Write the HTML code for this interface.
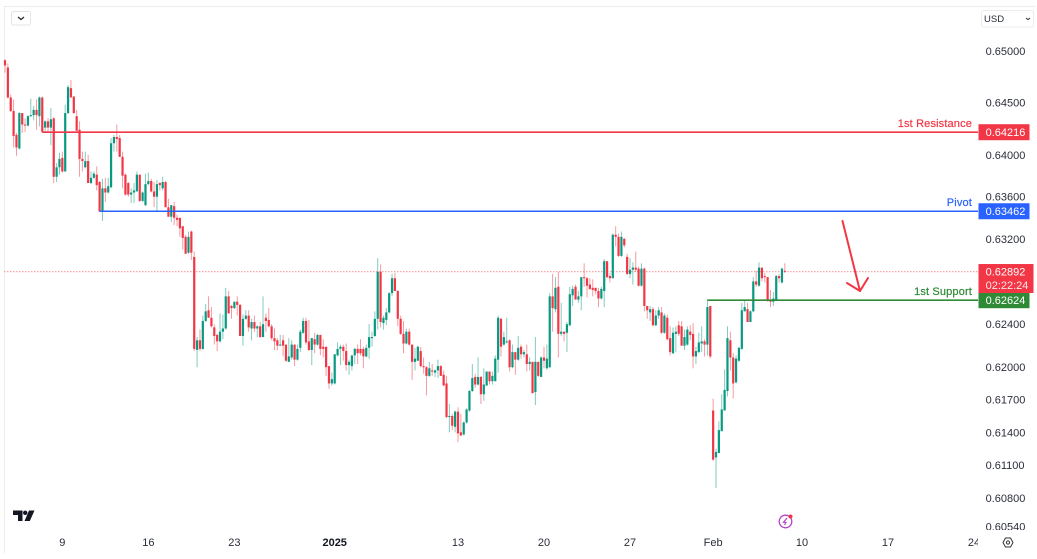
<!DOCTYPE html>
<html lang="en">
<head>
<meta charset="utf-8">
<title>Price chart</title>
<style>
html,body{margin:0;padding:0;width:1037px;height:559px;overflow:hidden;background:#fff}
svg{display:block;font-family:"Liberation Sans",sans-serif}
text{font-size:11px}
</style>
</head>
<body>
<svg id="chart" xmlns="http://www.w3.org/2000/svg" width="1037" height="559" viewBox="0 0 1037 559">
  <defs>
    <clipPath id="price-clip"><rect x="978" y="28" width="59" height="502"/></clipPath>
    <clipPath id="time-clip"><rect x="4" y="530" width="974" height="24"/></clipPath>
  </defs>
  <rect width="1037" height="559" fill="#ffffff"/>
  <path d="M4.5 553V6.5H1035.5" fill="none" stroke="#ececec" stroke-width="1"/>
  <g id="price-ticks" clip-path="url(#price-clip)"></g>
  <g id="time-ticks" clip-path="url(#time-clip)"></g>
  <g id="last-line"></g>
  <g id="candles"></g>
  <g id="levels"></g>
  <g id="last-box"></g>

  <g fill="none" stroke="#f23645" stroke-width="2" stroke-linecap="round" stroke-linejoin="round">
    <path d="M842.5 221L860 291"/>
    <path d="M847 283L860 291L868 278"/>
  </g>

  <g>
    <rect x="11.5" y="11.5" width="19" height="13.5" rx="2" fill="#fff" stroke="#e4e4e4"/>
    <path d="M18 17l3 2.5l3-2.5" fill="none" stroke="#333" stroke-width="1.4"/>
  </g>
  <g>
    <rect x="981.5" y="10.5" width="52" height="16.5" rx="2" fill="#fff" stroke="#ececec"/>
    <text x="984" y="22" fill="#2a2e39" style="font-size:9.5px">USD</text>
    <path d="M1026 18l2 1.6l2-1.6" fill="none" stroke="#333" stroke-width="1"/>
  </g>

  <g fill="#131722">
    <path d="M13 510.500H22.500V521H18V515H13Z"/>
    <circle cx="25.200" cy="512.800" r="2.200"/>
    <path d="M29 510.500H34.500L29.800 521H24.500Z"/>
  </g>

  <g>
    <circle cx="785.500" cy="521.500" r="6.300" fill="none" stroke="#b344c8" stroke-width="1.300"/>
    <path d="M787 518L783.500 522.300H786L784.500 525" fill="none" stroke="#b344c8" stroke-width="1.200"/>
    <circle cx="790.500" cy="516.500" r="2" fill="#f23645"/>
  </g>

  <g fill="none" stroke="#333" stroke-width="1">
    <path d="M1003 542.500L1005.500 538H1010.500L1013 542.500L1010.500 547H1005.500Z"/>
    <circle cx="1008" cy="542.500" r="1.600"/>
  </g>
</svg>

<script>
const opens = [
.6491,.6484,.6455,.6442,.6419,.6406,.6440,.6429,.6428,.6437,
.6438,.6443,.6437,.6455,.6426,.6432,.6426,.6435,.6379,.6388,
.6397,.6384,.6440,.6464,.6456,.6437,.6424,.6396,.6388,.6394,
.6373,.6378,.6381,.6374,.6346,.6368,.6364,.6369,.6411,.6417,
.6416,.6398,.6381,.6373,.6362,.6364,.6365,.6381,.6356,.6352,
.6372,.6375,.6365,.6360,.6373,.6368,.6374,.6350,.6341,.6351,
.6340,.6340,.6332,.6322,.6307,.6327,.6303,.6216,.6225,.6217,
.6243,.6253,.6246,.6237,.6230,.6224,.6233,.6236,.6266,.6257,
.6255,.6261,.6258,.6229,.6245,.6248,.6236,.6242,.6236,.6238,
.6228,.6246,.6244,.6238,.6227,.6225,.6220,.6225,.6221,.6205,
.6209,.6221,.6207,.6218,.6232,.6243,.6224,.6216,.6226,.6221,
.6230,.6219,.6219,.6201,.6185,.6185,.6211,.6217,.6219,.6215,
.6202,.6201,.6211,.6217,.6217,.6217,.6210,.6218,.6227,.6229,
.6245,.6289,.6241,.6244,.6251,.6269,.6283,.6271,.6245,.6231,
.6222,.6233,.6221,.6205,.6206,.6215,.6201,.6200,.6192,.6197,
.6195,.6197,.6201,.6193,.6185,.6154,.6155,.6145,.6159,.6140,
.6138,.6149,.6160,.6178,.6191,.6184,.6191,.6175,.6183,.6196,
.6187,.6187,.6207,.6245,.6221,.6223,.6225,.6200,.6214,.6207,
.6219,.6212,.6212,.6203,.6205,.6177,.6205,.6191,.6209,.6199,
.6200,.6266,.6254,.6275,.6231,.6233,.6232,.6239,.6267,.6275,
.6263,.6266,.6284,.6283,.6277,.6274,.6274,.6271,.6264,.6271,
.6299,.6285,.6283,.6324,.6322,.6304,.6320,.6303,.6287,.6291,
.6293,.6292,.6276,.6292,.6257,.6251,.6254,.6239,.6248,.6251,
.6232,.6246,.6227,.6213,.6231,.6239,.6238,.6220,.6221,.6233,
.6231,.6210,.6214,.6222,.6224,.6221,.6257,.6160,.6117,.6121,
.6141,.6160,.6178,.6225,.6209,.6186,.6206,.6217,.6252,.6254,
.6242,.6252,.6280,.6276,.6293,.6285,.6284,.6263,.6261,.6263,
.6285,.6279,.6290];
const highs = [
.6492,.6488,.6458,.6453,.6421,.6441,.6440,.6435,.6438,.6454,
.6447,.6453,.6456,.6456,.6433,.6435,.6445,.6436,.6392,.6402,
.6403,.6448,.6467,.6472,.6456,.6443,.6432,.6403,.6403,.6400,
.6384,.6384,.6389,.6375,.6377,.6378,.6378,.6416,.6419,.6429,
.6419,.6403,.6382,.6374,.6368,.6373,.6384,.6381,.6365,.6382,
.6383,.6377,.6374,.6376,.6374,.6379,.6375,.6358,.6352,.6355,
.6343,.6340,.6332,.6324,.6327,.6328,.6308,.6228,.6235,.6248,
.6259,.6266,.6256,.6240,.6231,.6250,.6249,.6274,.6271,.6258,
.6261,.6266,.6259,.6249,.6253,.6253,.6245,.6248,.6239,.6242,
.6266,.6250,.6255,.6240,.6236,.6227,.6230,.6230,.6221,.6227,
.6225,.6221,.6221,.6235,.6246,.6246,.6244,.6227,.6232,.6231,
.6230,.6226,.6219,.6201,.6195,.6212,.6223,.6221,.6221,.6222,
.6207,.6211,.6218,.6221,.6226,.6219,.6221,.6240,.6233,.6252,
.6302,.6296,.6248,.6255,.6270,.6287,.6288,.6272,.6248,.6243,
.6236,.6236,.6221,.6218,.6220,.6219,.6209,.6201,.6205,.6203,
.6198,.6207,.6202,.6197,.6192,.6166,.6157,.6160,.6163,.6157,
.6150,.6162,.6179,.6203,.6194,.6209,.6192,.6199,.6196,.6196,
.6196,.6211,.6248,.6246,.6233,.6246,.6226,.6221,.6214,.6229,
.6221,.6216,.6221,.6209,.6205,.6228,.6205,.6210,.6219,.6221,
.6269,.6287,.6284,.6289,.6260,.6233,.6242,.6275,.6276,.6277,
.6271,.6284,.6297,.6284,.6283,.6282,.6274,.6274,.6275,.6301,
.6299,.6288,.6325,.6332,.6325,.6327,.6321,.6306,.6302,.6298,
.6308,.6294,.6297,.6293,.6257,.6257,.6256,.6253,.6256,.6256,
.6250,.6249,.6238,.6237,.6238,.6243,.6243,.6235,.6238,.6239,
.6241,.6219,.6232,.6238,.6226,.6263,.6257,.6171,.6125,.6150,
.6175,.6198,.6238,.6233,.6213,.6211,.6219,.6260,.6262,.6260,
.6253,.6284,.6290,.6298,.6293,.6288,.6284,.6272,.6270,.6286,
.6287,.6293,.6297];
const lows = [
.6479,.6454,.6441,.6407,.6399,.6405,.6421,.6422,.6427,.6436,
.6433,.6424,.6427,.6421,.6421,.6421,.6409,.6373,.6374,.6381,
.6383,.6384,.6439,.6455,.6439,.6422,.6379,.6384,.6387,.6373,
.6372,.6377,.6366,.6346,.6337,.6355,.6363,.6368,.6403,.6403,
.6398,.6368,.6361,.6360,.6354,.6354,.6365,.6355,.6355,.6351,
.6371,.6364,.6350,.6346,.6366,.6366,.6350,.6341,.6336,.6333,
.6332,.6322,.6310,.6306,.6306,.6300,.6215,.6200,.6215,.6216,
.6242,.6246,.6237,.6221,.6215,.6223,.6226,.6235,.6250,.6245,
.6254,.6248,.6229,.6220,.6244,.6233,.6225,.6233,.6228,.6227,
.6228,.6233,.6237,.6225,.6216,.6216,.6220,.6210,.6205,.6205,
.6207,.6201,.6206,.6214,.6231,.6221,.6215,.6202,.6213,.6220,
.6211,.6209,.6192,.6180,.6183,.6184,.6210,.6202,.6206,.6197,
.6193,.6197,.6203,.6203,.6211,.6199,.6209,.6208,.6219,.6228,
.6235,.6237,.6235,.6239,.6250,.6266,.6271,.6238,.6230,.6213,
.6221,.6220,.6188,.6197,.6206,.6200,.6194,.6174,.6191,.6192,
.6191,.6190,.6192,.6183,.6153,.6140,.6142,.6140,.6131,.6137,
.6137,.6148,.6159,.6177,.6181,.6183,.6166,.6169,.6183,.6184,
.6184,.6187,.6195,.6210,.6220,.6222,.6196,.6199,.6193,.6206,
.6208,.6209,.6196,.6197,.6176,.6165,.6191,.6191,.6199,.6198,
.6199,.6233,.6251,.6209,.6229,.6224,.6214,.6238,.6257,.6263,
.6260,.6253,.6275,.6265,.6272,.6266,.6268,.6256,.6263,.6256,
.6283,.6279,.6283,.6313,.6303,.6303,.6312,.6286,.6283,.6277,
.6289,.6275,.6275,.6252,.6245,.6243,.6238,.6238,.6245,.6231,
.6231,.6225,.6211,.6212,.6214,.6229,.6220,.6216,.6220,.6225,
.6199,.6203,.6213,.6214,.6210,.6211,.6208,.6114,.6089,.6121,
.6141,.6160,.6173,.6197,.6171,.6185,.6205,.6216,.6252,.6242,
.6242,.6251,.6275,.6275,.6280,.6279,.6261,.6256,.6257,.6262,
.6279,.6278,.6288];
const closes = [
.6486,.6455,.6442,.6418,.6407,.6440,.6429,.6428,.6437,.6438,
.6443,.6438,.6455,.6422,.6432,.6426,.6434,.6379,.6388,.6396,
.6384,.6440,.6465,.6455,.6440,.6423,.6396,.6394,.6394,.6373,
.6378,.6382,.6371,.6346,.6368,.6364,.6370,.6411,.6417,.6415,
.6398,.6380,.6362,.6362,.6364,.6366,.6381,.6356,.6364,.6372,
.6375,.6365,.6360,.6372,.6371,.6374,.6350,.6341,.6352,.6340,
.6338,.6330,.6321,.6306,.6322,.6307,.6217,.6225,.6217,.6243,
.6252,.6246,.6238,.6229,.6224,.6233,.6236,.6266,.6250,.6255,
.6261,.6258,.6229,.6245,.6248,.6237,.6242,.6236,.6238,.6228,
.6240,.6243,.6238,.6227,.6224,.6220,.6221,.6220,.6206,.6210,
.6221,.6207,.6217,.6233,.6243,.6223,.6216,.6227,.6221,.6230,
.6217,.6217,.6200,.6185,.6189,.6212,.6217,.6219,.6215,.6202,
.6205,.6211,.6217,.6213,.6213,.6210,.6218,.6228,.6228,.6245,
.6289,.6242,.6246,.6251,.6269,.6283,.6271,.6245,.6231,.6222,
.6233,.6221,.6205,.6208,.6219,.6201,.6200,.6192,.6199,.6196,
.6197,.6201,.6192,.6183,.6154,.6155,.6146,.6159,.6139,.6137,
.6149,.6161,.6178,.6190,.6184,.6191,.6175,.6184,.6196,.6187,
.6192,.6208,.6246,.6219,.6228,.6224,.6200,.6214,.6207,.6218,
.6212,.6214,.6203,.6205,.6176,.6205,.6192,.6209,.6206,.6208,
.6266,.6255,.6274,.6231,.6233,.6231,.6240,.6268,.6273,.6263,
.6266,.6284,.6283,.6276,.6273,.6272,.6271,.6264,.6273,.6299,
.6284,.6283,.6324,.6322,.6304,.6322,.6314,.6287,.6291,.6293,
.6291,.6276,.6292,.6257,.6253,.6254,.6239,.6248,.6253,.6232,
.6248,.6226,.6214,.6232,.6233,.6231,.6220,.6228,.6235,.6230,
.6210,.6215,.6223,.6224,.6221,.6256,.6210,.6115,.6122,.6142,
.6161,.6179,.6227,.6209,.6185,.6208,.6218,.6253,.6256,.6242,
.6252,.6280,.6277,.6293,.6283,.6284,.6262,.6261,.6264,.6285,
.6283,.6292,.62892];

const priceTicks = [0.65,0.645,0.64,0.636,0.632,0.624,0.62,0.617,0.614,0.611,0.608,0.6054];
const timeTickLabels = ["9","16","23","2025","13","20","27","Feb","10","17","24"];
const timeTickBars = [20,50,80,115,158,188,218,247,278,308,338];
const levelNames = ["1st Resistance","Pivot","1st Support"];
const levelPrices = [0.64216,0.63462,0.62624];
const levelStartBars = [13,33,245];
const levelColors = ["#f23645","#2962ff","#2f8a36"];
const lastPrice = 0.62892;
const countdown = "02:22:24";

const SVG_NS = "http://www.w3.org/2000/svg";
const UP = "#089981", DOWN = "#f23645";
function xScale(bar){ return 5 + 2.867 * bar; }
function yScale(price){ return 51 + 6692 * Math.log(0.65 / price); }
function make(tag, attrs, parent, txt){
  const el = document.createElementNS(SVG_NS, tag);
  for (const k in attrs) el.setAttribute(k, attrs[k]);
  if (txt !== undefined) el.textContent = txt;
  parent.appendChild(el);
  return el;
}

const priceGroup = document.getElementById("price-ticks");
priceTicks.forEach(function(p){
  const t = make("text", {x:985.6, y:yScale(p)+4, fill:"#2a2e39"}, priceGroup, p.toFixed(5));
  
  
});

const timeGroup = document.getElementById("time-ticks");
timeTickLabels.forEach(function(label, i){
  const bold = label === "2025";
  const t = make("text", {x:xScale(timeTickBars[i]), y:546, fill: bold ? "#131722" : "#2a2e39", "text-anchor":"middle", "font-weight": bold ? "700" : "400"}, timeGroup, label);
  
  
});

const lastGroup = document.getElementById("last-line");
const lastLine = make("line", {x1:4, x2:978, y1:yScale(lastPrice), y2:yScale(lastPrice), stroke:"#f23645", "stroke-width":1.2, "stroke-dasharray":"1.5 1.5", opacity:0.45}, lastGroup);



const candleGroup = document.getElementById("candles");
closes.forEach(function(c, i){
  const o = opens[i];
  const color = c >= o && !(i === closes.length - 1) ? UP : DOWN;
  const cx = xScale(i);
  const g = make("g", {}, candleGroup);
  
  
  const wick = make("line", {x1:cx, x2:cx, y1:yScale(highs[i]), y2:yScale(lows[i]), stroke:color, "stroke-width":1, opacity:0.5}, g);
  
  
  const top = yScale(Math.max(o, c));
  const bottom = yScale(Math.min(o, c));
  const body = make("rect", {x:cx-1.1, y:top, width:2.2, height:Math.max(1, bottom-top), fill:color}, g);
  
  
});

const levelGroup = document.getElementById("levels");
levelNames.forEach(function(name, i){
  const y = yScale(levelPrices[i]);
  const color = levelColors[i];
  const line = make("line", {x1:xScale(levelStartBars[i]), x2:978, y1:y, y2:y, stroke:color, "stroke-width":1.6}, levelGroup);
  
  
  const title = make("text", {x:972, y:y-5, fill:color, stroke:color, "stroke-width":0.2, "text-anchor":"end", style:"letter-spacing:.15px"}, levelGroup, name);
  
  
  const box = make("rect", {x:978.5, y:y-8, width:51, height:16, fill:color}, levelGroup);
  
  
  const val = make("text", {x:985.6, y:y+4, fill:"#ffffff"}, levelGroup, levelPrices[i].toFixed(5));
  
  
});

const lastBox = document.getElementById("last-box");
const ly = yScale(lastPrice);
const lastTag = make("rect", {x:978.5, y:ly-7.6, width:55, height:29, fill:"#f23645"}, lastBox);


const lastVal = make("text", {x:985.6, y:ly+4, fill:"#ffffff"}, lastBox, lastPrice.toFixed(5));


const timer = make("text", {x:985.6, y:ly+17.4, fill:"#ffe9ea"}, lastBox, countdown);


</script>
</body>
</html>
